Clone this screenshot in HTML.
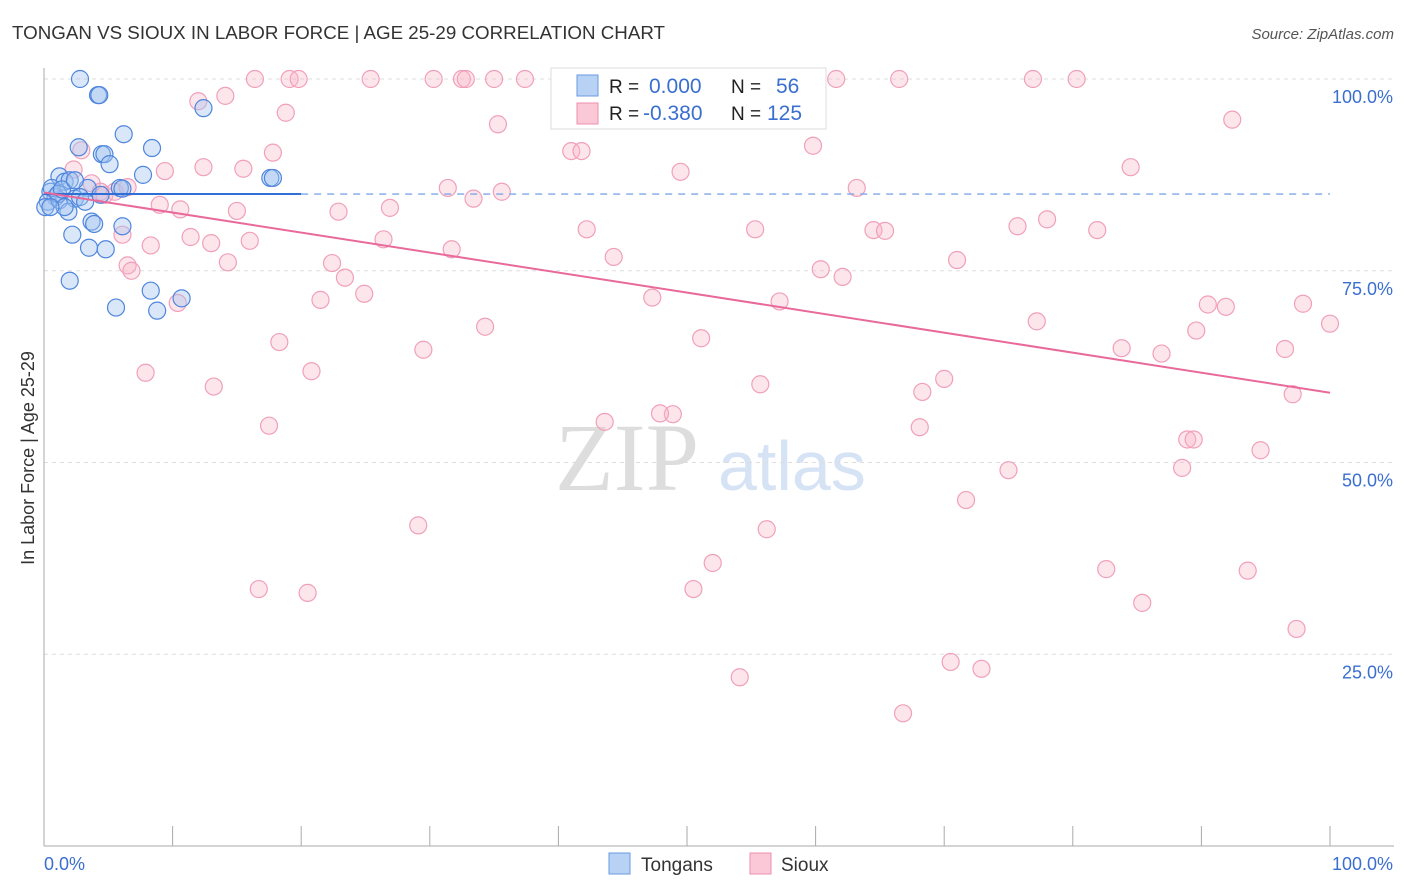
<!DOCTYPE html>
<html><head><meta charset="utf-8"><style>
body{margin:0;background:#fff;font-family:"Liberation Sans",sans-serif}
svg{display:block}
</style></head><body>
<svg id="c" width="1406" height="892">
<text x="12" y="39" font-size="18" fill="#333" textLength="653" lengthAdjust="spacingAndGlyphs">TONGAN VS SIOUX IN LABOR FORCE | AGE 25-29 CORRELATION CHART</text>
<text x="1394" y="39" font-size="15" fill="#555" font-style="italic" text-anchor="end">Source: ZipAtlas.com</text>
<text x="555" y="490" font-size="96" fill="#ddd" font-family="Liberation Serif">ZIP</text>
<text x="718" y="490" font-size="70" fill="#d6e3f5">atlas</text>
<text transform="translate(34,458) rotate(-90)" font-size="18" fill="#333" text-anchor="middle">In Labor Force | Age 25-29</text>
<g id="grid"></g><g id="pts"></g><g id="lines"></g>
<g>
<rect x="551" y="68" width="275" height="61" fill="#fff" stroke="#ddd"/>
<rect x="577" y="75" width="21" height="21" fill="#b8d2f5" stroke="#6a9ae0"/>
<rect x="577" y="103" width="21" height="21" fill="#fbc8d7" stroke="#ee8fae"/>
<text x="609" y="93" font-size="19" fill="#222">R = </text><text x="649" y="93" font-size="21" fill="#3a6fd0">0.000</text>
<text x="731" y="93" font-size="19" fill="#222">N = </text><text x="776" y="93" font-size="21" fill="#3a6fd0">56</text>
<text x="609" y="120" font-size="19" fill="#222">R = </text><text x="643" y="120" font-size="21" fill="#3a6fd0">-0.380</text>
<text x="731" y="120" font-size="19" fill="#222">N = </text><text x="767" y="120" font-size="21" fill="#3a6fd0">125</text>
</g>
<g>
<rect x="609" y="853" width="21" height="21" fill="#b8d2f5" stroke="#6a9ae0"/>
<text x="641" y="871" font-size="19" fill="#333">Tongans</text>
<rect x="750" y="853" width="21" height="21" fill="#fbc8d7" stroke="#ee8fae"/>
<text x="781" y="871" font-size="19" fill="#333">Sioux</text>
</g>
</svg>
<script>
const yTicks=[100,75,50,25];
const yTickLabels=["100.0%","75.0%","50.0%","25.0%"];
const tongX=[2.8,4.2,4.3,12.4,6.2,2.7,8.4,4.5,4.7,5.1,7.7,17.6,17.8,1.2,1.6,2.0,3.4,5.9,6.1,0.5,0.9,0.3,0.1,1.2,2.4,2.8,1.9,3.2,3.7,3.9,6.1,2.2,3.5,4.8,2.0,8.3,10.7,5.6,8.8,0.6,1.1,1.6,0.5,1.4,2.4,4.4];
const tongY=[100,97.9,97.9,96.2,92.8,91.1,91.0,90.2,90.2,88.9,87.5,87.1,87.1,87.3,86.6,86.8,85.8,85.8,85.7,85.3,84.6,84.0,83.3,84.2,84.4,84.6,82.7,84.0,81.4,81.1,80.8,79.7,78.0,77.8,73.7,72.4,71.4,70.2,69.8,85.8,85.0,83.3,83.3,85.6,86.8,84.9];
const siouxX=[16.4,19.1,19.8,25.4,30.3,32.5,32.8,35.0,37.4,49.7,61.6,66.5,76.9,80.3,12.0,14.1,18.8,35.3,92.4,41.0,41.8,59.8,17.8,2.9,9.4,12.4,15.5,49.5,84.5,31.4,35.6,63.2,33.4,2.3,3.7,4.4,4.7,5.5,6.5,9.0,10.6,15.0,22.9,26.9,42.2,55.3,64.5,65.4,75.7,78.0,81.9,6.1,11.4,13.0,16.0,26.4,31.7,71.0,14.3,8.3,6.5,6.8,22.4,23.4,44.3,60.4,62.1,24.9,21.5,47.3,57.2,10.4,90.5,91.9,97.9,77.2,100,34.3,89.6,51.1,18.3,29.5,83.8,86.9,96.5,7.9,20.8,55.7,13.2,70.0,68.3,97.1,43.6,48.9,47.9,17.5,68.1,88.9,89.4,94.6,75.0,88.5,71.7,29.1,56.2,52.0,82.6,93.6,16.7,20.5,50.5,85.4,97.4,70.5,72.9,54.1,66.8];
const siouxY=[100,100,100,100,100,100,100,100,100,100,100,100,100,100,97.1,97.8,95.6,94.1,94.7,90.6,90.6,91.3,90.4,90.7,88.0,88.5,88.3,87.9,88.5,85.8,85.3,85.8,84.4,88.2,86.4,85.3,84.9,85.3,85.9,83.6,83.0,82.8,82.7,83.2,80.4,80.4,80.3,80.2,80.8,81.7,80.3,79.7,79.4,78.6,78.9,79.1,77.8,76.4,76.1,78.3,75.7,75.0,76.0,74.1,76.8,75.2,74.2,72.0,71.2,71.5,71.0,70.8,70.6,70.3,70.7,68.4,68.1,67.7,67.2,66.2,65.7,64.7,64.9,64.2,64.8,61.7,61.9,60.2,59.9,60.9,59.2,58.9,55.3,56.3,56.4,54.8,54.6,53.0,53.0,51.6,49.0,49.3,45.1,41.8,41.3,36.9,36.1,35.9,33.5,33.0,33.5,31.7,28.3,24.0,23.1,22.0,17.3];
const X0=44,X1=1330,Y0=846,YT=79;
const sx=v=>X0+(X1-X0)*v/100, sy=v=>Y0-(Y0-YT)*v/100;
const NS="http://www.w3.org/2000/svg";
function mk(t,a,p){const e=document.createElementNS(NS,t);for(const k in a)e.setAttribute(k,a[k]);p.appendChild(e);return e;}
const g=document.getElementById('grid');
yTicks.forEach((v,i)=>{
 const l=mk('line',{x1:X0,x2:1394,y1:sy(v),y2:sy(v),stroke:'#ddd','stroke-dasharray':'4,4'},g);
 
 
 const t=mk('text',{x:1393,y:sy(v)+24,'font-size':18,fill:'#3a6fd0','text-anchor':'end'},g);
 t.textContent=yTickLabels[i];
 
 
});
mk('line',{x1:X0,x2:X0,y1:68,y2:846,stroke:'#aaa'},g);
mk('line',{x1:X0,x2:1394,y1:846,y2:846,stroke:'#aaa'},g);
for(let i=0;i<=10;i++){const t=mk('line',{x1:sx(i*10),x2:sx(i*10),y1:826,y2:846,stroke:'#aaa'},g);
 
 }
let a=mk('text',{x:44,y:870,'font-size':18,fill:'#3a6fd0'},g);a.textContent='0.0%';
a=mk('text',{x:1393,y:870,'font-size':18,fill:'#3a6fd0','text-anchor':'end'},g);a.textContent='100.0%';
const p=document.getElementById('pts');
siouxX.forEach((x,i)=>{const c=mk('circle',{cx:sx(x),cy:sy(siouxY[i]),r:8.5,fill:'rgba(248,180,200,0.35)',stroke:'#f0a0ba','stroke-width':1.2},p);
 
 });
tongX.forEach((x,i)=>{const c=mk('circle',{cx:sx(x),cy:sy(tongY[i]),r:8.5,fill:'rgba(160,195,240,0.4)',stroke:'#4f86dd','stroke-width':1.2},p);
 
 });
const L=document.getElementById('lines');
let e=mk('line',{x1:sx(0),x2:sx(20),y1:sy(85),y2:sy(85),stroke:'#2f6fd6','stroke-width':2},L);

e=mk('line',{x1:sx(20),x2:sx(100),y1:sy(85),y2:sy(85),stroke:'#7fa6e6','stroke-width':1.3,'stroke-dasharray':'7,6'},L);

e=mk('line',{x1:sx(0),x2:sx(100),y1:sy(85.2),y2:sy(59.1),stroke:'#e8699a','stroke-width':2},L);

</script>
</body></html>
